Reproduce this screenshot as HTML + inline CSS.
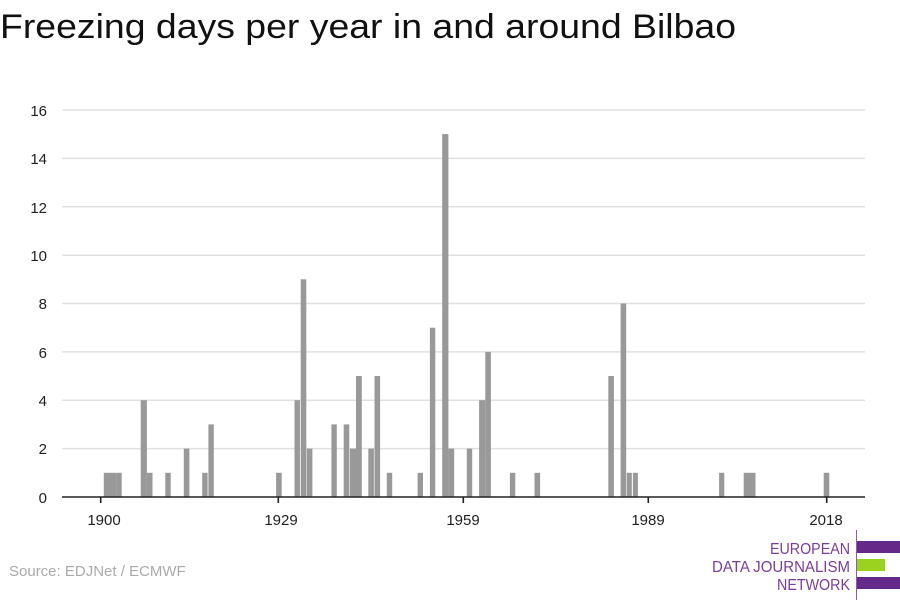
<!DOCTYPE html>
<html><head><meta charset="utf-8"><style>
html,body{margin:0;padding:0;background:#fff;}
svg{display:block;font-family:"Liberation Sans",sans-serif;}
</style></head><body>
<svg width="900" height="600" viewBox="0 0 900 600">
<text x="0" y="38" font-size="34" fill="#111" textLength="736" lengthAdjust="spacingAndGlyphs">Freezing days per year in and around Bilbao</text>
<g stroke="#e0e0e0" stroke-width="1.5">
<line x1="62" x2="865" y1="110" y2="110"/><line x1="62" x2="865" y1="158.4" y2="158.4"/>
<line x1="62" x2="865" y1="206.8" y2="206.8"/><line x1="62" x2="865" y1="255.2" y2="255.2"/>
<line x1="62" x2="865" y1="303.5" y2="303.5"/><line x1="62" x2="865" y1="351.9" y2="351.9"/>
<line x1="62" x2="865" y1="400.2" y2="400.2"/><line x1="62" x2="865" y1="448.6" y2="448.6"/>
</g>
<g font-size="15" fill="#222" text-anchor="end">
<text x="47" y="116">16</text><text x="47" y="164">14</text><text x="47" y="213">12</text>
<text x="47" y="261">10</text><text x="47" y="309">8</text><text x="47" y="358">6</text>
<text x="47" y="406">4</text><text x="47" y="454">2</text><text x="47" y="503">0</text>
</g>
<g fill="#999">
<rect x="103.8" y="472.8" width="12.3" height="24.2"/>
<rect x="116.1" y="472.8" width="5.6" height="24.2"/>
<rect x="140.7" y="400.2" width="6.2" height="96.8"/>
<rect x="146.9" y="472.8" width="5.6" height="24.2"/>
<rect x="165.3" y="472.8" width="5.4" height="24.2"/>
<rect x="183.8" y="448.6" width="5.6" height="48.4"/>
<rect x="202.2" y="472.8" width="5.4" height="24.2"/>
<rect x="208.4" y="424.4" width="5.4" height="72.6"/>
<rect x="276.1" y="472.8" width="5.6" height="24.2"/>
<rect x="294.5" y="400.2" width="5.4" height="96.8"/>
<rect x="300.7" y="279.3" width="5.6" height="217.7"/>
<rect x="306.8" y="448.6" width="5.6" height="48.4"/>
<rect x="331.4" y="424.4" width="5.4" height="72.6"/>
<rect x="343.7" y="424.4" width="5.6" height="72.6"/>
<rect x="349.9" y="448.6" width="6.1" height="48.4"/>
<rect x="356.0" y="376" width="5.8" height="121"/>
<rect x="368.3" y="448.6" width="5.6" height="48.4"/>
<rect x="374.5" y="376" width="5.6" height="121"/>
<rect x="386.8" y="472.8" width="5.4" height="24.2"/>
<rect x="417.6" y="472.8" width="5.4" height="24.2"/>
<rect x="429.9" y="327.7" width="5.4" height="169.3"/>
<rect x="442.2" y="134.1" width="6.2" height="362.9"/>
<rect x="448.4" y="448.6" width="5.8" height="48.4"/>
<rect x="466.8" y="448.6" width="5.4" height="48.4"/>
<rect x="479.1" y="400.2" width="6.2" height="96.8"/>
<rect x="485.3" y="351.9" width="5.6" height="145.1"/>
<rect x="509.9" y="472.8" width="5.4" height="24.2"/>
<rect x="534.5" y="472.8" width="5.6" height="24.2"/>
<rect x="608.3" y="376" width="5.6" height="121"/>
<rect x="620.6" y="303.5" width="5.6" height="193.5"/>
<rect x="626.8" y="472.8" width="5.0" height="24.2"/>
<rect x="632.9" y="472.8" width="5.0" height="24.2"/>
<rect x="719.1" y="472.8" width="5.2" height="24.2"/>
<rect x="743.7" y="472.8" width="11.8" height="24.2"/>
<rect x="823.7" y="472.8" width="5.6" height="24.2"/>
</g>
<line x1="62" x2="865" y1="497" y2="497" stroke="#222" stroke-width="1.6"/>
<g stroke="#222" stroke-width="1.6">
<line x1="100.7" x2="100.7" y1="497" y2="503"/><line x1="278.3" x2="278.3" y1="497" y2="503"/>
<line x1="463.3" x2="463.3" y1="497" y2="503"/><line x1="648.3" x2="648.3" y1="497" y2="503"/>
<line x1="826.7" x2="826.7" y1="497" y2="503"/>
</g>
<g font-size="15" fill="#222" text-anchor="middle">
<text x="104" y="525">1900</text><text x="281" y="525">1929</text><text x="463" y="525">1959</text>
<text x="648" y="525">1989</text><text x="826" y="525">2018</text>
</g>
<text x="9" y="576" font-size="15" fill="#aaa">Source: EDJNet / ECMWF</text>
<line x1="856.5" x2="856.5" y1="530" y2="600" stroke="#8a5bb0" stroke-width="1"/>
<rect x="857" y="541" width="43" height="12" fill="#65298a"/>
<rect x="857" y="559" width="28" height="12" fill="#9bd21f"/>
<rect x="857" y="577" width="43" height="12" fill="#65298a"/>
<g font-size="16" fill="#7a3ea0" text-anchor="end">
<text x="850" y="554" textLength="80" lengthAdjust="spacingAndGlyphs">EUROPEAN</text>
<text x="850" y="572" textLength="138" lengthAdjust="spacingAndGlyphs">DATA JOURNALISM</text>
<text x="850" y="590" textLength="73" lengthAdjust="spacingAndGlyphs">NETWORK</text>
</g>
</svg>
</body></html>
